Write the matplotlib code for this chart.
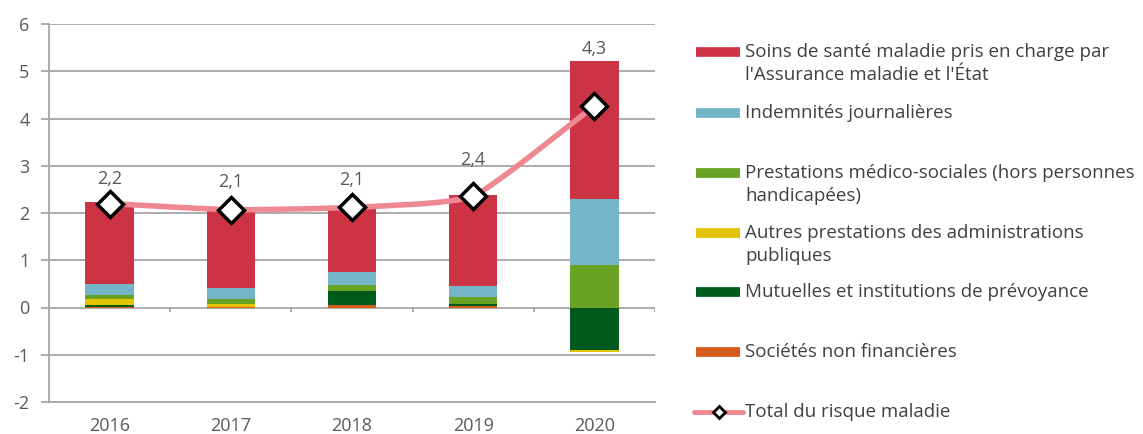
import matplotlib.pyplot as plt
import numpy as np
from matplotlib.path import Path
from matplotlib.patches import PathPatch

plt.rcParams['font.family'] = ['Open Sans', 'DejaVu Sans']
plt.rcParams['axes.unicode_minus'] = False

# data
years = ['2016', '2017', '2018', '2019', '2020']
soins = [1.74, 1.66, 1.36, 1.93, 2.92]
ij = [0.23, 0.23, 0.27, 0.22, 1.38]
medico = [0.07, 0.11, 0.14, 0.15, 0.91]
autres = [0.14, 0.05, 0.00, 0.00, -0.03]
mutuelles = [0.03, 0.01, 0.29, 0.04, -0.89]
snf = [0.02, 0.01, 0.05, 0.04, -0.02]
total = [2.20, 2.07, 2.12, 2.36, 4.27]

labels = ["Soins de santé maladie pris en charge par\nl'Assurance maladie et l'État",
          "Indemnités journalières",
          "Prestations médico-sociales (hors personnes\nhandicapées)",
          "Autres prestations des administrations\npubliques",
          "Mutuelles et institutions de prévoyance",
          "Sociétés non financières",
          "Total du risque maladie"]

# stacking order from the axis outward
series = [snf, mutuelles, autres, medico, ij, soins]
colors = ['#d45d1a', '#005a1c', '#e3c400', '#6aa323', '#74b6c8', '#cc3446']
legend_colors = ['#cc3446', '#74b6c8', '#6aa323', '#e3c400', '#005a1c', '#d45d1a']
line_color = '#ee8892'
grey = '#a6a6a6'
txt = '#595959'
fs = 13

W, H = 1143, 434
fig = plt.figure(figsize=(W / 100, H / 100), dpi=100)
ax = fig.add_axes([49 / W, 1 - 402 / H, 606 / W, 378 / H])

x = np.arange(len(years))
pos = np.zeros(len(years))
neg = np.zeros(len(years))
for vals, c in zip(series, colors):
    v = np.array(vals)
    bottom = np.where(v >= 0, pos, neg)
    ax.bar(x, v, 0.4, bottom=bottom, color=c, zorder=2)
    pos = pos + np.where(v >= 0, v, 0)
    neg = neg + np.where(v < 0, v, 0)

# smoothed total line (cubic Bezier through the points)
pts = np.column_stack([x, total]).astype(float)
verts = [pts[0]]
codes = [Path.MOVETO]
n = len(pts)
k = 1 / 12
for i in range(n - 1):
    p0 = pts[max(i - 1, 0)]
    p1 = pts[i]
    p2 = pts[i + 1]
    p3 = pts[min(i + 2, n - 1)]
    verts += [p1 + (p2 - p0) * k, p2 - (p3 - p1) * k, p2]
    codes += [Path.CURVE4] * 3
ax.add_patch(PathPatch(Path(verts, codes), fill=False, edgecolor=line_color,
                       lw=4, zorder=3, capstyle='round'))
ax.plot(x, total, linestyle='none', marker='D', ms=13, mfc='white',
        mec='black', mew=2.5, zorder=4)

# value labels
label_off = [17, 20, 20, 25, 9]
for i, t in enumerate(total):
    top = max(t, pos[i])
    ax.annotate(f'{t:.1f}'.replace('.', ','), (x[i], top), xytext=(0, label_off[i]),
                textcoords='offset points', ha='center', va='center',
                fontsize=fs, color=txt)

ax.set_xlim(-0.5, 4.5)
ax.set_ylim(-2, 6)
ax.set_yticks(range(-2, 7))
ax.yaxis.grid(True, color=grey, lw=1.3, zorder=0)
ax.set_axisbelow(True)
for s in ['top', 'right']:
    ax.spines[s].set_visible(False)
ax.spines['left'].set_color(grey)
ax.spines['left'].set_linewidth(1.3)
ax.spines['bottom'].set_color(grey)
ax.spines['bottom'].set_linewidth(1.3)
ax.tick_params(axis='y', colors=grey, length=6, width=1.3, labelcolor=txt,
               labelsize=fs, pad=8)
ax.set_xticks(x)
ax.set_xticklabels(years)
ax.tick_params(axis='x', length=0, labelsize=fs, labelcolor=txt, pad=11)
# category separators on the zero line
ax.vlines(np.arange(0.5, 5, 1), -0.1, 0, color=grey, lw=1.3, zorder=1)

# legend drawn in pixel coordinates
lax = fig.add_axes([0, 0, 1, 1], facecolor='none')
lax.set_xlim(0, W)
lax.set_ylim(H, 0)
lax.axis('off')
ys = [52, 113, 173, 233, 292, 352, 412]
for i, (lab, y) in enumerate(zip(labels, ys)):
    if i < 6:
        lax.plot([696, 740], [y, y], color=legend_colors[i], lw=7, solid_capstyle='butt')
    else:
        lax.plot([694, 743], [y, y], color=line_color, lw=3.5, solid_capstyle='round')
        lax.plot([719], [y], marker='D', ms=6, mfc='white', mec='black', mew=2)
    for j, line in enumerate(lab.split('\n')):
        lax.text(745, y + 23 * j, line, va='center', ha='left', fontsize=13.5,
                 color='#404040')

fig.savefig('out.png', dpi=100)
